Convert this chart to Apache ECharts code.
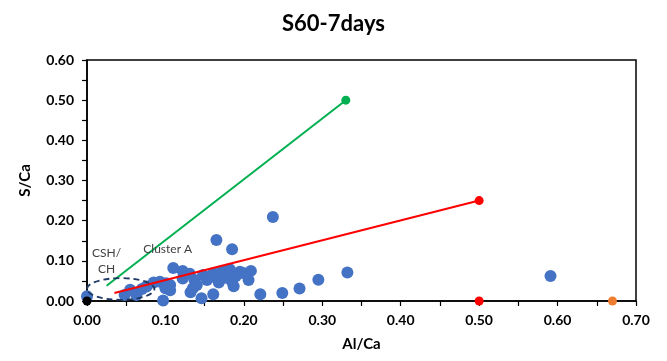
<!DOCTYPE html>
<html>
<head>
<meta charset="utf-8">
<script src="https://cdn.jsdelivr.net/npm/echarts@6/dist/echarts.min.js"></script>
<style>
  html, body { margin: 0; padding: 0; background: #fff; }
  #chart { width: 667px; height: 361px; }
</style>
</head>
<body>
<div id="chart"></div>
<script>
// Measured S/Ca vs Al/Ca pairs (EDS spot analyses)
const spots = [
  [0.000, 0.012], [0.048, 0.015], [0.055, 0.028], [0.063, 0.015], [0.070, 0.030],
  [0.076, 0.036], [0.085, 0.046], [0.093, 0.048], [0.097, 0.001], [0.100, 0.032],
  [0.101, 0.044], [0.106, 0.027], [0.106, 0.040], [0.110, 0.082], [0.122, 0.075],
  [0.122, 0.056], [0.131, 0.068], [0.132, 0.022], [0.135, 0.032], [0.137, 0.052],
  [0.140, 0.040], [0.146, 0.007], [0.148, 0.065], [0.153, 0.052], [0.157, 0.060],
  [0.161, 0.017], [0.161, 0.069], [0.165, 0.152], [0.168, 0.046], [0.172, 0.067],
  [0.172, 0.075], [0.176, 0.058], [0.182, 0.079], [0.185, 0.048], [0.185, 0.129],
  [0.187, 0.037], [0.190, 0.062], [0.195, 0.073], [0.199, 0.070], [0.206, 0.052],
  [0.209, 0.075], [0.221, 0.017], [0.237, 0.209], [0.249, 0.020], [0.271, 0.031],
  [0.295, 0.053], [0.332, 0.071], [0.591, 0.062]
];

// Reference phase compositions
const ettringite = [0.33, 0.50];
const monosulfate = [0.50, 0.25];
const hydrogarnet = [0.50, 0.00];
const aluminate = [0.67, 0.00];
const portlandite = [0.00, 0.00];

// Mixing lines drawn from the CSH/CH region toward the phases
const ettringiteLine = [[0.025, 0.038], ettringite];
const monosulfateLine = [[0.035, 0.020], monosulfate];

// Axis ranges and tick step
const xRange = [0, 0.7];
const yRange = [0, 0.6];
const tickStep = 0.1;

// CSH/CH outline (data units)
const cshZone = { cx: 0.043, cy: 0.030, rx: 0.043, ry: 0.027 };

const FONT = 'Lato, "Open Sans", sans-serif';
const chart = echarts.init(document.getElementById('chart'));

const axisCommon = {
  type: 'value',
  interval: tickStep,
  axisLine: { show: true, onZero: false, lineStyle: { color: '#000', width: 1.5 } },
  axisTick: { show: true, inside: false, length: 5, lineStyle: { color: '#000', width: 1.2 } },
  minorTick: { show: true, splitNumber: 2, length: 5, lineStyle: { color: '#000', width: 1.2 } },
  splitLine: { show: false },
  axisLabel: {
    color: '#000', fontFamily: FONT, fontWeight: 'bold', fontSize: 14,
    formatter: v => v.toFixed(2)
  },
  nameTextStyle: { color: '#000', fontFamily: FONT, fontWeight: 'bold', fontSize: 15 }
};

const endMarker = (pt) => [{ value: pt[0], symbol: 'none' }, { value: pt[1] }];

chart.setOption({
  animation: false,
  backgroundColor: '#fff',
  title: {
    text: 'S60-7days',
    left: 'center',
    top: 8,
    textStyle: { fontFamily: FONT, fontWeight: 'bold', fontSize: 22, color: '#000' }
  },
  grid: {
    left: 87, right: 31, top: 60, bottom: 60,
    show: true, borderColor: '#000', borderWidth: 1.5
  },
  xAxis: Object.assign({}, axisCommon, {
    min: xRange[0], max: xRange[1],
    name: 'Al/Ca', nameLocation: 'middle', nameGap: 36,
    axisLabel: Object.assign({}, axisCommon.axisLabel, { margin: 12 })
  }),
  yAxis: Object.assign({}, axisCommon, {
    min: yRange[0], max: yRange[1],
    name: 'S/Ca', nameLocation: 'middle', nameGap: 54,
    axisLabel: Object.assign({}, axisCommon.axisLabel, { margin: 13 })
  }),
  series: [
    {
      type: 'scatter', data: spots, symbolSize: 12,
      itemStyle: { color: '#4472C4', opacity: 1 }, z: 2
    },
    {
      type: 'line', data: endMarker(ettringiteLine), symbol: 'circle', symbolSize: 9,
      lineStyle: { color: '#00B050', width: 2 }, itemStyle: { color: '#00B050' }, z: 3
    },
    {
      type: 'line', data: endMarker(monosulfateLine), symbol: 'circle', symbolSize: 9,
      lineStyle: { color: '#FF0000', width: 2 }, itemStyle: { color: '#FF0000' }, z: 3
    },
    { type: 'scatter', data: [hydrogarnet], symbolSize: 9, itemStyle: { color: '#FF0000', opacity: 1 }, z: 4 },
    { type: 'scatter', data: [aluminate], symbolSize: 9, itemStyle: { color: '#ED7D31', opacity: 1 }, z: 4 },
    { type: 'scatter', data: [portlandite], symbolSize: 9, itemStyle: { color: '#000', opacity: 1 }, z: 4 }
  ]
});

// Annotations placed in data coordinates
function px(pt) { return chart.convertToPixel({ gridIndex: 0 }, pt); }
const c = px([cshZone.cx, cshZone.cy]);
const e = px([cshZone.cx + cshZone.rx, cshZone.cy + cshZone.ry]);
const cshLabel = px([0.025, 0.14]);
const clusterLabel = px([0.103, 0.13]);

chart.setOption({
  graphic: [
    {
      type: 'ellipse', z: 10,
      shape: { cx: c[0], cy: c[1], rx: e[0] - c[0], ry: c[1] - e[1] },
      style: { fill: 'none', stroke: '#1F3864', lineWidth: 1.8, lineDash: [6, 4] }
    },
    {
      type: 'text', z: 10, x: cshLabel[0], y: cshLabel[1],
      style: {
        text: 'CSH/\nCH', fill: '#404040', font: '12px ' + FONT,
        align: 'center', verticalAlign: 'top', lineHeight: 16
      }
    },
    {
      type: 'text', z: 10, x: clusterLabel[0], y: clusterLabel[1],
      style: {
        text: 'Cluster A', fill: '#404040', font: '12px ' + FONT,
        align: 'center', verticalAlign: 'middle'
      }
    }
  ]
});
</script>
</body>
</html>
